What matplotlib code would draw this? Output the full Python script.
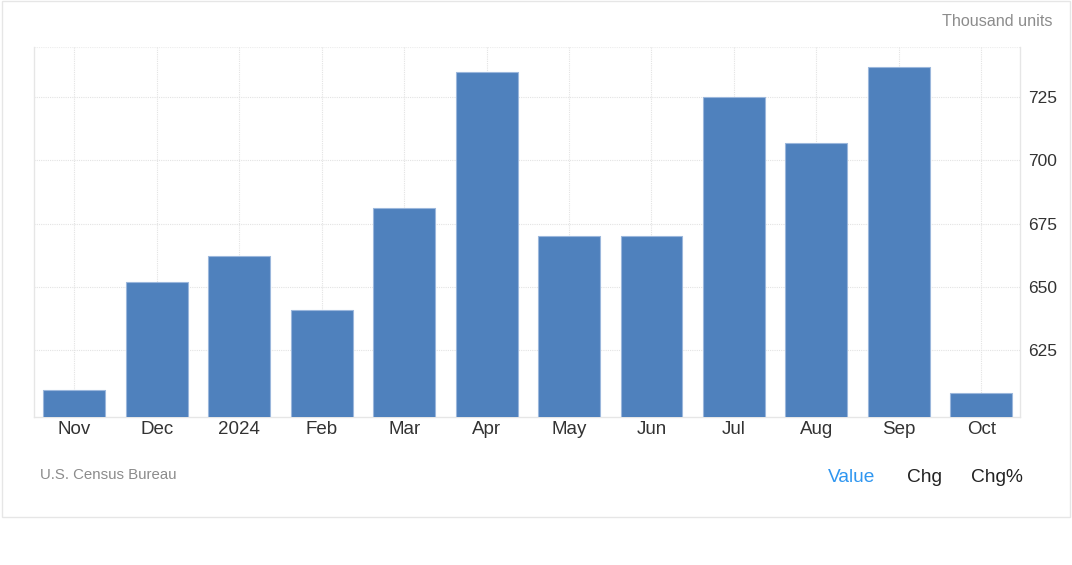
import matplotlib
matplotlib.use("Agg")
import matplotlib.pyplot as plt
from matplotlib.patches import Rectangle

categories = ["Nov", "Dec", "2024", "Feb", "Mar", "Apr", "May", "Jun", "Jul", "Aug", "Sep", "Oct"]
values = [609, 652, 662, 641, 681, 735, 670, 670, 725, 707, 737, 608]
yticks = [625, 650, 675, 700, 725]

plt.rcParams['font.family'] = ['Liberation Sans', 'DejaVu Sans']

fig = plt.figure(figsize=(10.72, 5.65), dpi=100)
fig.patch.set_facecolor('white')

# outer frame
fig.patches.append(Rectangle((2/1072, 1 - 517/565), 1068/1072, 516/565,
                             transform=fig.transFigure, fill=False,
                             edgecolor='#e6e6e6', lw=1.0))

ax = fig.add_axes([34/1072, 1 - 417/565, (1020-34)/1072, (417-47)/565])
x = list(range(len(categories)))
ax.bar(x, values, width=0.75, color='#4f81bd', edgecolor='#9bb7dc', lw=0.8, zorder=3)
ax.set_xlim(-0.49, 11.47)
ax.set_ylim(598.5, 744.8)
ax.set_xticks(x)
ax.set_xticklabels(categories)
ax.set_yticks(yticks)
ax.yaxis.tick_right()
ax.tick_params(axis='both', length=0, colors='#333333')
ax.tick_params(axis='x', pad=3, labelsize=13.5)
ax.tick_params(axis='y', pad=6, labelsize=12.5)
ax.grid(True, color='#e3e3e3', linestyle=(0, (1, 1)), lw=0.8, zorder=0)
for s in ['left', 'right', 'bottom']:
    ax.spines[s].set_color('#e6e6e6')
    ax.spines[s].set_linewidth(1.0)
ax.spines['top'].set_visible(False)
ax.axhline(744.8, color='#ececec', lw=0.8, linestyle=(0, (1, 1)), zorder=0)

fig.text(1053/1072, 1 - 22/565, "Thousand units", ha='right', va='center', fontsize=11.6, color='#8c8c8c')
fig.text(40/1072, 1 - 475/565, "U.S. Census Bureau", ha='left', va='center', fontsize=10.8, color='#8c8c8c')
fig.text(852/1072, 1 - 477/565, "Value", ha='center', va='center', fontsize=13.8, color='#2f96f0')
fig.text(924/1072, 1 - 477/565, "Chg", ha='center', va='center', fontsize=13.8, color='#222222')
fig.text(997/1072, 1 - 477/565, "Chg%", ha='center', va='center', fontsize=13.8, color='#222222')

fig.savefig("out.png", dpi=100, facecolor='white')
